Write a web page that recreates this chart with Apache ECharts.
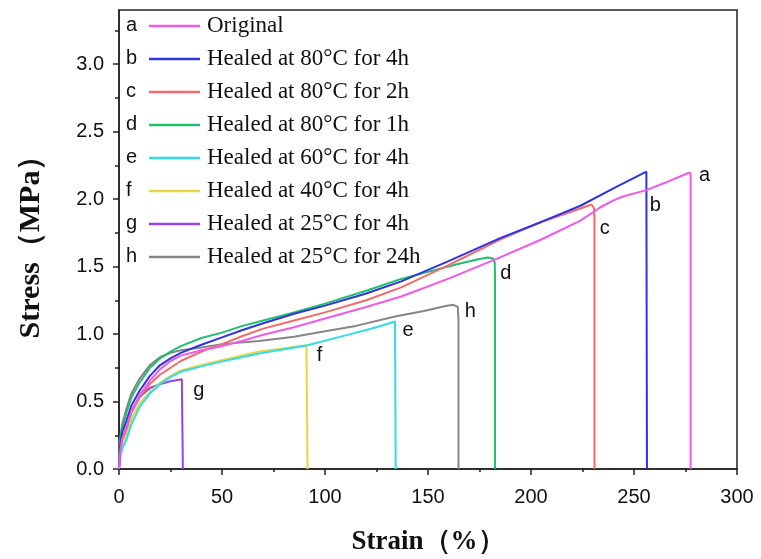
<!DOCTYPE html>
<html>
<head>
<meta charset="utf-8">
<script src="https://cdn.jsdelivr.net/npm/echarts@6/dist/echarts.min.js"></script>
<style>html,body{margin:0;padding:0;background:#fff}#c{width:761px;height:559px}</style>
</head>
<body>
<div id="c"></div>
<script>
// ---- data (strain %, stress MPa) ----
const curveA = [[0,0],[0.5,0.12],[1.5,0.22],[3.7,0.31],[6,0.43],[10,0.545],[15,0.655],[20,0.74],[25,0.8],[30,0.84],[40,0.88],[50,0.91],[60,0.95],[70,0.995],[85,1.05],[100,1.115],[120,1.2],[137,1.278],[160,1.41],[185,1.568],[205,1.7],[224,1.84],[233.5,1.937],[240,1.99],[245,2.02],[256,2.066],[265,2.12],[277,2.196],[277.5,2.18],[277.5,0]];
const curveB = [[0,0],[0.5,0.15],[1.5,0.27],[3.7,0.36],[6,0.47],[10,0.58],[15,0.69],[20,0.77],[25,0.82],[30,0.86],[40,0.92],[50,0.975],[60,1.03],[70,1.08],[85,1.15],[100,1.21],[120,1.3],[137,1.39],[160,1.54],[185,1.71],[205,1.83],[224,1.95],[240,2.078],[256,2.203],[256.3,2.19],[256.3,0]];
const curveC = [[0,0],[0.5,0.12],[1.5,0.22],[3.7,0.3],[6,0.42],[10,0.53],[15,0.63],[20,0.7],[25,0.75],[30,0.8],[40,0.87],[50,0.925],[60,0.985],[70,1.04],[85,1.1],[100,1.16],[120,1.25],[137,1.345],[160,1.51],[185,1.7],[205,1.83],[224,1.93],[228,1.952],[229.5,1.957],[230.6,1.93],[230.8,1.85],[230.8,0]];
const curveD = [[0,0],[0.5,0.18],[1.5,0.3],[3.7,0.42],[6,0.53],[10,0.64],[15,0.75],[20,0.82],[25,0.87],[30,0.91],[40,0.97],[50,1.01],[60,1.06],[70,1.1],[85,1.16],[100,1.225],[120,1.32],[137,1.408],[150,1.46],[165,1.52],[175,1.555],[179,1.567],[181.5,1.56],[182.4,1.53],[182.5,1.45],[182.5,0]];
const curveE = [[0,0],[0.5,0.08],[1.5,0.15],[3.7,0.22],[6,0.33],[10,0.46],[15,0.56],[20,0.63],[25,0.68],[30,0.72],[40,0.76],[54,0.81],[68,0.855],[91,0.915],[110,0.99],[125,1.05],[134,1.093],[134.3,0]];
const curveF = [[0,0],[0.5,0.1],[1.5,0.18],[3.7,0.26],[6,0.37],[10,0.485],[15,0.571],[20,0.64],[25,0.69],[30,0.73],[40,0.77],[54,0.82],[68,0.87],[80,0.895],[91,0.916],[91.5,0]];
const curveG = [[0,0],[0.5,0.12],[1.5,0.22],[3.7,0.29],[6,0.42],[10,0.534],[15,0.6],[20,0.63],[25,0.65],[30.5,0.665],[31,0]];
const curveH = [[0,0],[0.3,0.2],[1.5,0.33],[3.7,0.45],[6,0.56],[10,0.67],[15,0.77],[20,0.83],[25,0.86],[30,0.88],[40,0.9],[50,0.925],[68,0.948],[85,0.98],[100,1.02],[115,1.06],[134,1.13],[148,1.17],[158,1.205],[162.3,1.216],[164.5,1.2],[164.8,1.1],[164.8,0]];

const letters = ['a','b','c','d','e','f','g','h'];
const names = ['Original','Healed at 80°C for 4h','Healed at 80°C for 2h','Healed at 80°C for 1h','Healed at 60°C for 4h','Healed at 40°C for 4h','Healed at 25°C for 4h','Healed at 25°C for 24h'];
const curves = [curveA,curveB,curveC,curveD,curveE,curveF,curveG,curveH];
const colors = ['#EE5AEA','#2F33E3','#F26A6A','#20BF6B','#2FDCEC','#E6D646','#9B40E4','#858585'];
const labelOffsets = [[15,3],[9,34],[13,24],[18,16],[13,9],[13,10],[17,11],[17,7]];

const xTicks = [0,50,100,150,200,250,300];
const yTicks = [0,0.5,1.0,1.5,2.0,2.5,3.0];
const yMinorTicks = [0.25,0.75,1.25,1.75,2.25,2.75,3.25];

const chart = echarts.init(document.getElementById('c'));

const series = curves.map((d, i) => {
  let peak = d[0];
  d.forEach(p => { if (p[1] > peak[1]) peak = p; });
  return {
    name: names[i],
    type: 'line',
    data: d,
    showSymbol: false,
    symbol: 'none',
    smooth: false,
    lineStyle: { width: 2, color: colors[i] },
    itemStyle: { color: colors[i] },
    z: 10 - i,
    markPoint: {
      symbol: 'circle', symbolSize: 0, silent: true,
      data: [{ coord: peak }],
      label: { show: true, position: 'inside', offset: labelOffsets[i], formatter: letters[i], color: '#111', fontFamily: 'Liberation Sans', fontSize: 20 }
    }
  };
});

const firstRow = 24, rowH = 33;
const graphics = letters.map((l, i) => ({
  type: 'text', left: 126, top: firstRow + i * rowH - 9,
  style: { text: l, font: '20px "Liberation Sans"', fill: '#111' }
}));

chart.setOption({
  backgroundColor: '#fff',
  animation: false,
  grid: { left: 119, right: 24, top: 10, bottom: 90, outerBoundsMode: 'none', containLabel: false, show: true, borderColor: '#222', borderWidth: 1.5, backgroundColor: 'transparent' },
  legend: {
    orient: 'vertical', left: 149, top: firstRow - 10, padding: 0,
    itemWidth: 51, itemHeight: 2.5, itemGap: 9, icon: 'rect', selectedMode: false,
    textStyle: { fontFamily: 'Liberation Serif', fontSize: 23, color: '#111', lineHeight: 24, padding: [0, 0, 0, 2] },
    data: names
  },
  graphic: graphics,
  xAxis: {
    type: 'value', min: 0, max: 300, interval: 50,
    name: 'Strain（%）', nameLocation: 'middle', nameGap: 60,
    nameTextStyle: { fontFamily: 'Liberation Serif', fontWeight: 'bold', fontSize: 27, color: '#111' },
    axisLine: { show: true, lineStyle: { color: '#222', width: 1.5 } },
    axisTick: { show: true, inside: false, length: 6, lineStyle: { color: '#222', width: 1.5 } },
    minorTick: { show: true, splitNumber: 2, length: 3, lineStyle: { color: '#222', width: 1.5 } },
    axisLabel: { customValues: xTicks, fontFamily: 'Liberation Sans', fontSize: 20, color: '#111', margin: 18 },
    splitLine: { show: false }
  },
  yAxis: [{
    type: 'value', min: 0, max: 3.4, interval: 0.5,
    name: 'Stress（MPa）', nameLocation: 'middle', nameGap: 73, nameRotate: 90,
    nameTextStyle: { fontFamily: 'Liberation Serif', fontWeight: 'bold', fontSize: 30, color: '#111' },
    axisLine: { show: true, lineStyle: { color: '#222', width: 1.5 } },
    axisTick: { show: true, customValues: yTicks, length: 6, lineStyle: { color: '#222', width: 1.5 } },
    axisLabel: { customValues: yTicks, formatter: v => v.toFixed(1), fontFamily: 'Liberation Sans', fontSize: 20, color: '#111', margin: 15 },
    splitLine: { show: false }
  }, {
    type: 'value', min: 0, max: 3.4, position: 'left',
    axisLine: { show: false },
    axisTick: { show: true, customValues: yMinorTicks, length: 4, lineStyle: { color: '#222', width: 1.5 } },
    axisLabel: { show: false },
    splitLine: { show: false }
  }],
  series: series
});
</script>
</body>
</html>
